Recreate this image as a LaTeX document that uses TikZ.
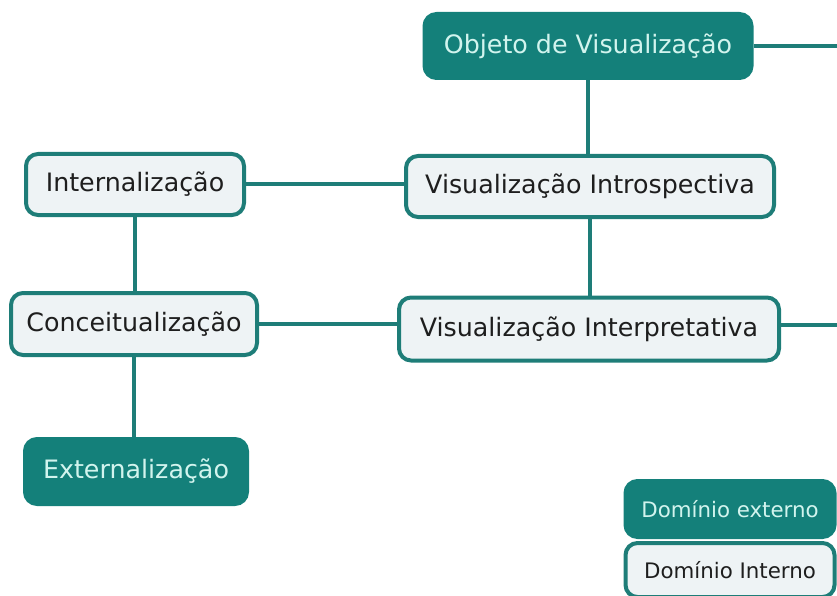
\documentclass[tikz,border=0pt]{standalone}
\usepackage{fontspec}
\setmainfont{DejaVu Sans}
\usepackage{tikz}
\definecolor{tealdark}{RGB}{20,128,122}
\definecolor{tealline}{RGB}{30,125,120}
\definecolor{boxfill}{RGB}{238,243,245}
\definecolor{lighttext}{RGB}{210,244,238}
\definecolor{darktext}{RGB}{30,30,30}
\tikzset{
  inbox/.style={draw=tealline, line width=3pt, fill=boxfill, rounded corners=9pt,
                text=darktext, font=\fontsize{19}{22}\selectfont, inner sep=0pt},
  exbox/.style={draw=tealdark, line width=3pt, fill=tealdark, rounded corners=9pt,
                text=lighttext, font=\fontsize{19}{22}\selectfont, inner sep=0pt},
  link/.style={tealline, line width=3pt},
}

\begin{document}
\begin{tikzpicture}[x=0.75pt, y=-0.75pt]
    \useasboundingbox (0,0) rectangle (837,595);
    \clip (0,0) rectangle (837,595);
    % domain boxes
    \node[exbox, minimum width=327*0.75pt, minimum height=64*0.75pt] (obj) at (588,46) {Objeto de Visualização};
    \node[inbox, minimum width=368*0.75pt, minimum height=61*0.75pt] (intro) at (590,186.5) {Visualização Introspectiva};
    \node[inbox, minimum width=380*0.75pt, minimum height=63*0.75pt] (inter) at (589,329) {Visualização Interpretativa};
    \node[inbox, minimum width=218*0.75pt, minimum height=61*0.75pt] (intern) at (135,184.5) {Internalização};
    \node[inbox, minimum width=246*0.75pt, minimum height=62*0.75pt] (conc) at (134,324) {Conceitualização};
    \node[exbox, minimum width=222*0.75pt, minimum height=65*0.75pt] (ext) at (136,471.5) {Externalização};
    % legend
    \node[exbox, font=\fontsize{16}{18}\selectfont, minimum width=209*0.75pt, minimum height=56*0.75pt] (legext) at (730,509) {Domínio externo};
    \node[inbox, font=\fontsize{16}{18}\selectfont, minimum width=209*0.75pt, minimum height=54*0.75pt] (legint) at (730,570) {Domínio Interno};
    \coordinate (objout) at (845,46);
    \coordinate (interout) at (845,325);
    % links
    \draw[link] (obj) -- (obj |- intro.north);
    \draw[link] (intro) -- (intro |- inter.north);
    \draw[link] (intern.east) -- (intern.east -| intro.west);
    \draw[link] (conc.east) -- (conc.east -| inter.west);
    \draw[link] (intern) -- (intern |- conc.north);
    \draw[link] (conc) -- (conc |- ext.north);
    \draw[link] (obj.east) -- (objout);
    \draw[link] (inter.east |- interout) -- (interout);
  \end{tikzpicture}
\end{document}
